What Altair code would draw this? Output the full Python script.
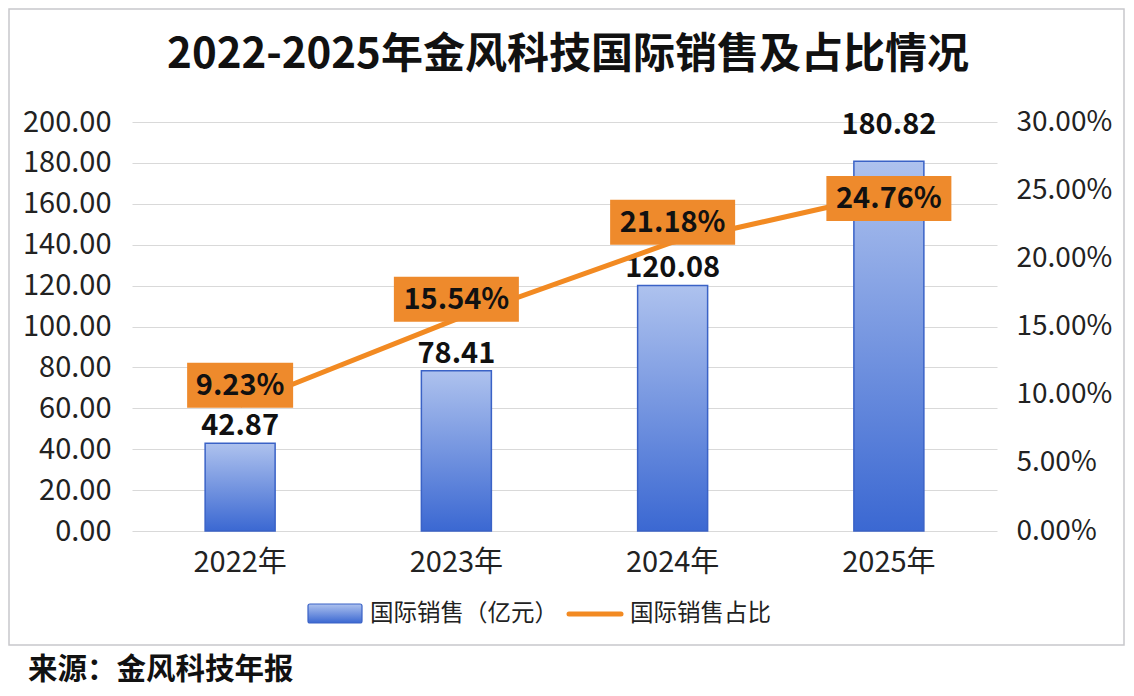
import altair as alt
import pandas as pd

# ---- data ----
years = ["2022年", "2023年", "2024年", "2025年"]
sales = [42.87, 78.41, 120.08, 180.82]          # 国际销售（亿元）
share = [0.0923, 0.1554, 0.2118, 0.2476]        # 国际销售占比
left_ticks = [0, 20, 40, 60, 80, 100, 120, 140, 160, 180, 200]
right_ticks = [0, 0.05, 0.10, 0.15, 0.20, 0.25, 0.30]

title_text = "2022-2025年金风科技国际销售及占比情况"
source_text = "来源：金风科技年报"
legend_bar = "国际销售（亿元）"
legend_line = "国际销售占比"

df = pd.DataFrame({"year": years, "sales": sales, "share": share})
one = pd.DataFrame({"k": [0]})

FONT = "Noto Sans CJK SC"
ORANGE_LINE = "#F28A22"
ORANGE_BOX = "#EE8A2C"
W, H = 865, 409

grad = alt.Gradient(
    gradient="linear",
    stops=[alt.GradientStop(color="#aec2ee", offset=0),
           alt.GradientStop(color="#3b68d2", offset=1)],
    x1=0, x2=0, y1=0, y2=1,
)

x_enc = alt.X("year:N", sort=years,
              scale=alt.Scale(paddingInner=0, paddingOuter=0),
              axis=alt.Axis(labelAngle=0, domain=False, ticks=False, labelPadding=17,
                            labelFontSize=29, labelFont=FONT, labelColor="#222",
                            title=None, grid=False))

y_left = alt.Y("sales:Q",
               scale=alt.Scale(domain=[0, 200], nice=False),
               axis=alt.Axis(values=left_ticks, format=".2f", labelFontSize=29,
                             labelFont=FONT, labelColor="#222", grid=True,
                             gridColor="#d9d9d9", gridWidth=1.2, domain=False,
                             ticks=False, labelPadding=21, title=None))

y_right = alt.Y("share:Q",
                scale=alt.Scale(domain=[0, 0.30], nice=False),
                axis=alt.Axis(orient="right", values=right_ticks, format=".2%",
                              labelFontSize=28, labelFont=FONT, labelColor="#222",
                              grid=False, domain=False, ticks=False,
                              labelPadding=19, title=None))

base = alt.Chart(df)

bars = base.mark_bar(width=70, color=grad, stroke="#3a62c6", strokeWidth=1.5).encode(
    x=x_enc, y=y_left)

bar_lab_a = base.transform_filter(alt.datum.year != "2025年").mark_text(
    font=FONT, fontSize=29, fontWeight="bold", color="#111", baseline="alphabetic",
    dy=-8).encode(x=x_enc, y=y_left, text=alt.Text("sales:Q", format=".2f"))
bar_lab_b = base.transform_filter(alt.datum.year == "2025年").mark_text(
    font=FONT, fontSize=29, fontWeight="bold", color="#111", baseline="alphabetic",
    dy=-27).encode(x=x_enc, y=y_left, text=alt.Text("sales:Q", format=".2f"))

left = alt.layer(bars, bar_lab_a, bar_lab_b)

line = base.mark_line(color=ORANGE_LINE, strokeWidth=5).encode(x=x_enc, y=y_right)

lab = base.transform_calculate(
    label="format(datum.share, '.2%')",
).transform_calculate(
    w="19*length(datum.label)+11",
).transform_calculate(
    sz="datum.w*datum.w",
    path="'M-1,' + (-45/datum.w) + 'L1,' + (-45/datum.w) + 'L1,' + (45/datum.w) + 'L-1,' + (45/datum.w) + 'Z'",
)

def boxes(filt, off):
    b = lab.transform_filter(filt).mark_point(
        filled=True, fill=ORANGE_BOX, opacity=1, strokeWidth=0, yOffset=off
    ).encode(x=x_enc, y=y_right,
             size=alt.Size("sz:Q", scale=None, legend=None),
             shape=alt.Shape("path:N", scale=None, legend=None))
    t = lab.transform_filter(filt).mark_text(
        font=FONT, fontSize=29, fontWeight="bold", color="#111", baseline="middle",
        yOffset=off + 1).encode(x=x_enc, y=y_right, text="label:N")
    return b, t

b1, t1 = boxes(alt.datum.year != "2025年", -20)
b2, t2 = boxes(alt.datum.year == "2025年", 5)

right = alt.layer(line, b1, b2, t1, t2)

main = alt.layer(left, right).resolve_scale(y="independent")

# ---- decorations (frame, title, legend, source) ----
frame = alt.Chart(one).mark_rect(fillOpacity=0, stroke="#c8c8cc", strokeWidth=1.5).encode(
    x=alt.value(-123), x2=alt.value(992), y=alt.value(-113), y2=alt.value(523))

title = alt.Chart(one).mark_text(font=FONT, fontSize=42, fontWeight="bold", color="#111",
                                 baseline="middle", align="center").encode(
    x=alt.value(436), y=alt.value(-67), text=alt.value(title_text))

leg_sw = alt.Chart(one).mark_rect(color=grad, stroke="#3a62c6", strokeWidth=1.2,
                                  cornerRadius=2).encode(
    x=alt.value(176), x2=alt.value(230), y=alt.value(482), y2=alt.value(501))
leg_t1 = alt.Chart(one).mark_text(font=FONT, fontSize=23.5, color="#222", align="left",
                                  baseline="middle").encode(
    x=alt.value(238), y=alt.value(492), text=alt.value(legend_bar))
leg_ln = alt.Chart(one).mark_rule(color=ORANGE_LINE, strokeWidth=5, strokeCap="round").encode(
    x=alt.value(437), x2=alt.value(489), y=alt.value(492))
leg_t2 = alt.Chart(one).mark_text(font=FONT, fontSize=23.5, color="#222", align="left",
                                  baseline="middle").encode(
    x=alt.value(498), y=alt.value(492), text=alt.value(legend_line))

source = alt.Chart(one).mark_text(font=FONT, fontSize=29.5, fontWeight="bold", color="#111",
                                  align="left", baseline="middle").encode(
    x=alt.value(-104), y=alt.value(548), text=alt.value(source_text))

chart = alt.layer(frame, main, title, leg_sw, leg_t1, leg_ln, leg_t2, source).properties(
    width=W, height=H,
    autosize=alt.AutoSizeParams(type="none"),
    padding={"left": 124, "top": 114, "right": 129, "bottom": 157},
    background="white",
).configure_view(stroke=None)

chart.save("out.html", embed_options={"renderer": "svg", "actions": False})
